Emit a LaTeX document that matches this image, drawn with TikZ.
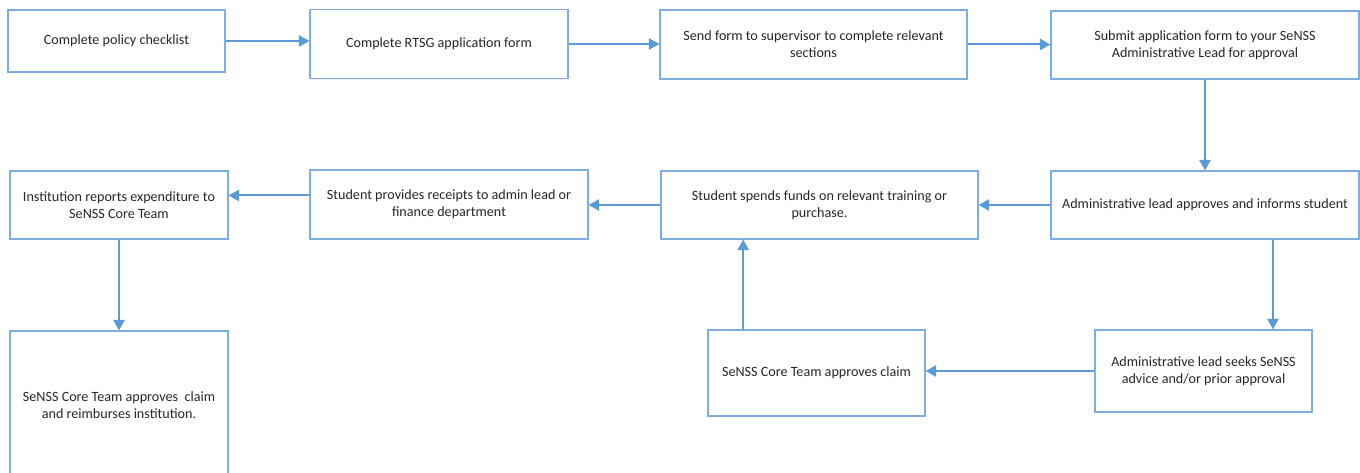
\documentclass[tikz,border=0pt]{standalone}
\usepackage{fontspec}
\setmainfont{Carlito}
\usetikzlibrary{arrows.meta,shadows}
\definecolor{flowblue}{HTML}{5B9BD5}
\definecolor{boxblue}{HTML}{7EAEDF}
\begin{document}
\begin{tikzpicture}[x=0.75pt, y=-0.75pt,
    box/.style={draw=boxblue, line width=0.8pt, fill=white, align=center,
      inner sep=2pt, font=\fontsize{10.6}{12.6}\selectfont, text=black!85,
      drop shadow={shadow xshift=1pt, shadow yshift=-1pt, opacity=0.12}},
    flow/.style={draw=flowblue, line width=1.5pt,
      -{Triangle[length=8pt, width=8.5pt]}}]
  \useasboundingbox (0,0) rectangle (1360,473);

  % Top row
  \node[box, minimum width=217*0.75pt, minimum height=62*0.75pt] (check) at (116.5,41) {Complete policy checklist};
  \node[box, minimum width=258*0.75pt, minimum height=69*0.75pt] (form) at (439,44) {Complete RTSG application form};
  \node[box, minimum width=307*0.75pt, minimum height=69*0.75pt] (super) at (813.5,44.5) {Send form to supervisor to complete relevant\\sections};
  \node[box, minimum width=308*0.75pt, minimum height=68*0.75pt] (submit) at (1205,45) {Submit application form to your SeNSS\\Administrative Lead for approval};

  % Middle row
  \node[box, minimum width=218*0.75pt, minimum height=68*0.75pt] (report) at (119,205) {Institution reports expenditure to\\SeNSS Core Team};
  \node[box, minimum width=278*0.75pt, minimum height=69*0.75pt] (receipt) at (449,204.5) {Student provides receipts to admin lead or\\finance department};
  \node[box, minimum width=317*0.75pt, minimum height=68*0.75pt] (spend) at (819.5,205) {Student spends funds on relevant training or\\purchase.};
  \node[box, minimum width=308*0.75pt, minimum height=68*0.75pt] (approve) at (1205,205) {Administrative lead approves and informs student};

  % Bottom row
  \node[box, minimum width=218*0.75pt, minimum height=148*0.75pt] (reimb) at (119,405) {SeNSS Core Team approves\ \ claim\\and reimburses institution.};
  \node[box, minimum width=217*0.75pt, minimum height=86*0.75pt] (claim) at (816.5,373) {SeNSS Core Team approves claim};
  \node[box, minimum width=217*0.75pt, minimum height=82*0.75pt] (seek) at (1203.5,371) {Administrative lead seeks SeNSS\\advice and/or prior approval};

  % Offset arrow ends
  \coordinate (r6) at ([yshift=6.75pt]receipt.west);
  \coordinate (d8) at ([xshift=51pt]approve.south);
  \coordinate (u10) at ([xshift=-55pt]claim.north);

  % Arrows
  \draw[flow] (check.east) -- (check.east -| form.west);
  \draw[flow] (form.east) -- (form.east -| super.west);
  \draw[flow] (super.east) -- (super.east -| submit.west);
  \draw[flow] (submit.south) -- (approve.north);
  \draw[flow] (approve.west) -- (approve.west -| spend.east);
  \draw[flow] (spend.west) -- (spend.west -| receipt.east);
  \draw[flow] (r6) -- (r6 -| report.east);
  \draw[flow] (report.south) -- (reimb.north);
  \draw[flow] (d8) -- (d8 |- seek.north);
  \draw[flow] (seek.west) -- (seek.west -| claim.east);
  \draw[flow] (u10) -- (u10 |- spend.south);
\end{tikzpicture}
\end{document}
